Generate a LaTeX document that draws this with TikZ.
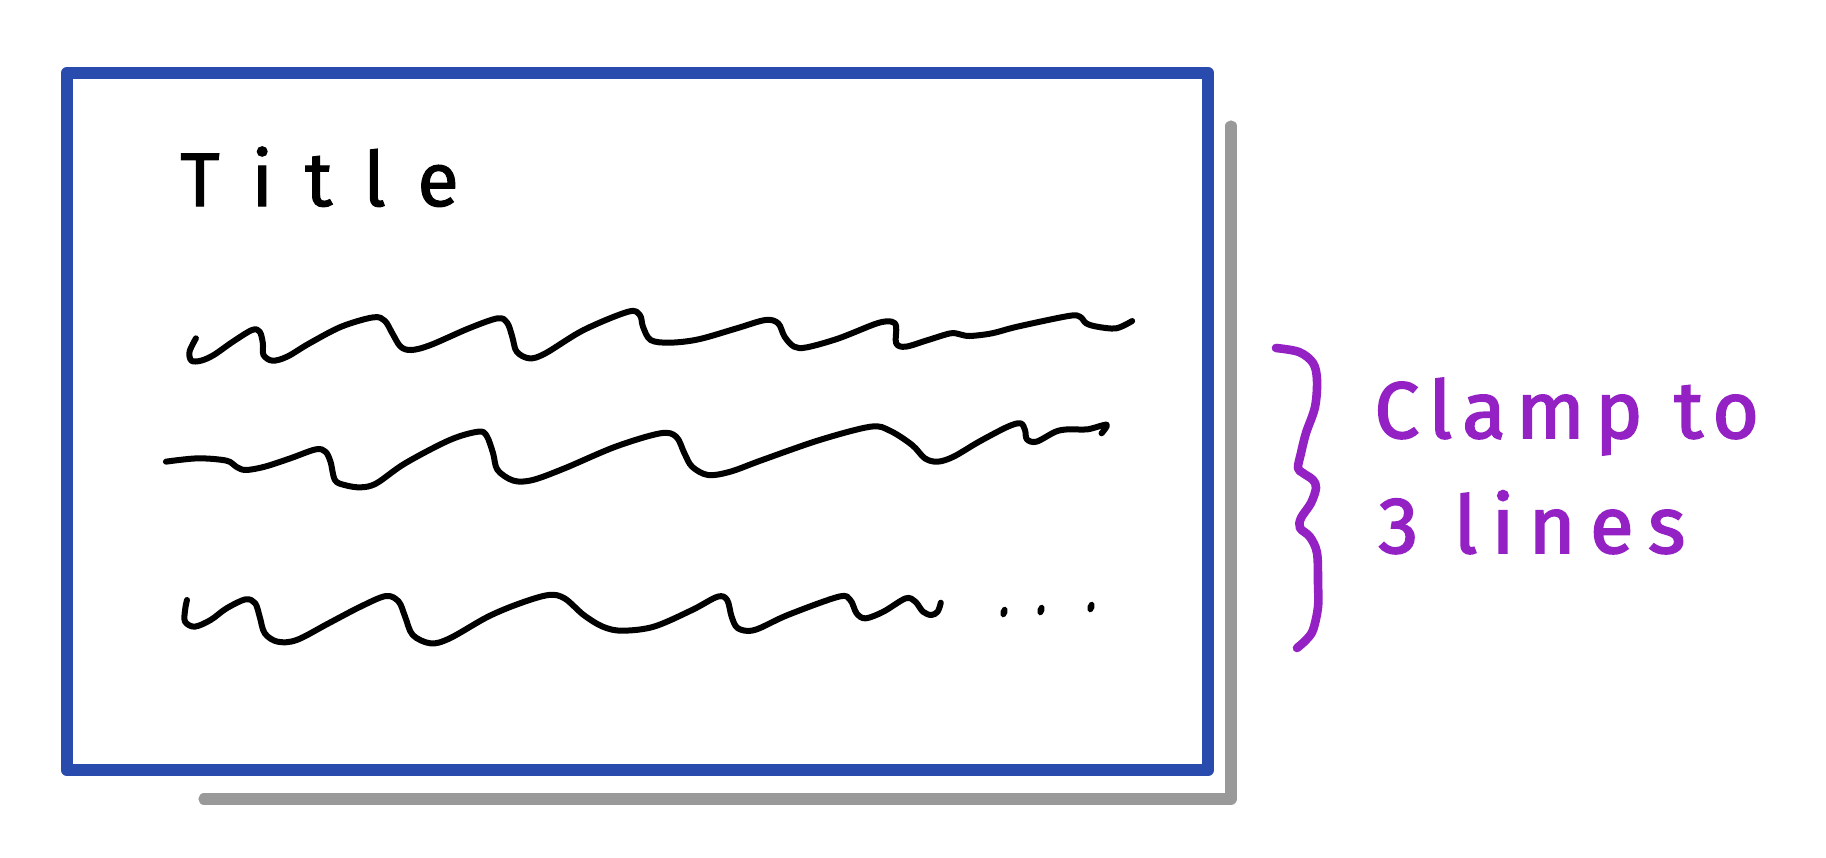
\documentclass[tikz,border=0pt]{standalone}
\usepackage{fontspec}
\newfontfamily\handfont{Fira Sans}
\definecolor{sketchblue}{HTML}{2A4BAE}
\definecolor{shadowgray}{HTML}{999999}
\definecolor{notepurple}{HTML}{9421C4}
\tikzset{
  frame/.style={draw=sketchblue, line width=6.2pt, line join=round},
  shadowline/.style={draw=shadowgray, line width=5.6pt, line cap=round, line join=round},
  wave/.style={draw=black, line width=3pt, line cap=round, line join=round},
  brace/.style={draw=notepurple, line width=4.3pt, line cap=round, line join=round},
  zoomA/.style={shift={(75pt,-145pt)}, x=0.31888pt, y=-0.16667pt},
  zoomB/.style={shift={(75pt,-200pt)}, x=0.31888pt, y=-0.16667pt},
  zoomC/.style={shift={(75pt,-280pt)}, x=0.31888pt, y=-0.16667pt},
}
\begin{document}
\begin{tikzpicture}[x=0.5pt, y=-0.5pt]
\useasboundingbox[fill=white] (0,0) rectangle (1826,857);
% shadow
\coordinate (s1) at (1231,126);
\coordinate (s2) at (1231,799);
\coordinate (s3) at (204,799);
\draw[shadowline] (s1) -- (s2) -- (s3);
% card
\draw[frame, fill=white] (67,73) rectangle (1208,770);
% title
\node[anchor=base west, inner sep=0pt] (title) at (180,206)
  {\handfont\fontsize{38}{40}\selectfont\addfontfeatures{LetterSpace=42,FakeBold=1.5}Title};
% line 1
\begin{scope}[zoomA]
\draw[wave] plot[smooth, tension=0.55] coordinates {(72,145) (62,185) (65,212) (80,212) (100,195) (130,155) (160,120) (172,125) (177,160) (178,195) (192,212) (215,200) (250,160) (300,110) (350,82) (368,92) (380,130) (393,170) (410,180) (440,165) (500,115) (545,85) (560,98) (568,140) (575,185) (595,205) (620,190) (680,120) (750,65) (768,75) (773,110) (785,150) (815,158) (860,148) (920,115) (965,90) (985,100) (995,140) (1010,170) (1030,172) (1080,145) (1140,100) (1163,95) (1170,110) (1170,160) (1185,170) (1220,150) (1255,130) (1270,133) (1285,138) (1320,130) (1360,110) (1440,78) (1458,80) (1468,100) (1485,110) (1515,115) (1540,93)};
\end{scope}
% line 2
\begin{scope}[zoomB]
\draw[wave] plot[smooth, tension=0.55] coordinates {(25,185) (75,175) (120,182) (135,200) (150,210) (180,200) (220,175) (260,148) (275,155) (283,185) (290,240) (305,255) (330,262) (355,250) (400,190) (470,120) (515,95) (528,108) (538,160) (545,210) (570,242) (600,240) (650,205) (730,140) (800,100) (825,110) (838,160) (850,200) (875,225) (910,215) (960,180) (1050,120) (1130,80) (1160,92) (1195,135) (1215,175) (1235,185) (1260,170) (1300,125) (1345,80) (1365,70) (1372,90) (1375,118) (1390,125) (1420,95) (1440,88) (1470,88) (1500,74) (1492,100)};
\end{scope}
% line 3
\begin{scope}[zoomC]
\draw[wave] plot[smooth, tension=0.55] coordinates {(58,120) (55,150) (55,185) (70,200) (95,180) (120,145) (150,118) (165,130) (172,170) (180,220) (200,245) (230,240) (280,190) (330,140) (370,108) (390,125) (400,170) (412,225) (440,250) (470,235) (530,170) (580,130) (625,105) (650,115) (680,165) (710,200) (740,212) (790,200) (850,150) (890,110) (905,120) (912,170) (922,205) (948,210) (1000,165) (1080,110) (1098,120) (1108,160) (1122,175) (1150,155) (1185,115) (1200,125) (1212,155) (1225,165) (1235,155) (1240,128)};
\end{scope}
% ellipsis dots
\fill[rotate around={-15:(1004,612)}] (1004,612) ellipse [x radius=3.5, y radius=5.5];
\fill[rotate around={-15:(1041,610)}] (1041,610) ellipse [x radius=3.5, y radius=5.5];
\fill[rotate around={-15:(1091,607)}] (1091,607) ellipse [x radius=3.5, y radius=5.5];
% brace
\draw[brace] plot[smooth, tension=0.55] coordinates {(1276,348) (1299,352) (1313,363) (1317,380) (1315,407) (1306,433) (1301,453) (1298,468) (1303,473) (1313,480) (1316,488) (1311,503) (1301,518) (1300,528) (1310,537) (1317,553) (1318,583) (1318,607) (1313,630) (1306,640) (1297,648)};
% note
\node[anchor=base west, inner sep=0pt, text=notepurple] (note1) at (1374,438)
  {\handfont\fontsize{40}{44}\selectfont\addfontfeatures{LetterSpace=13,FakeBold=2.2}Clamp to};
\node[anchor=base west, inner sep=0pt, text=notepurple] (note2) at (1378,553)
  {\handfont\fontsize{40}{44}\selectfont\addfontfeatures{LetterSpace=18,FakeBold=2.2}3 lines};
\end{tikzpicture}
\end{document}
